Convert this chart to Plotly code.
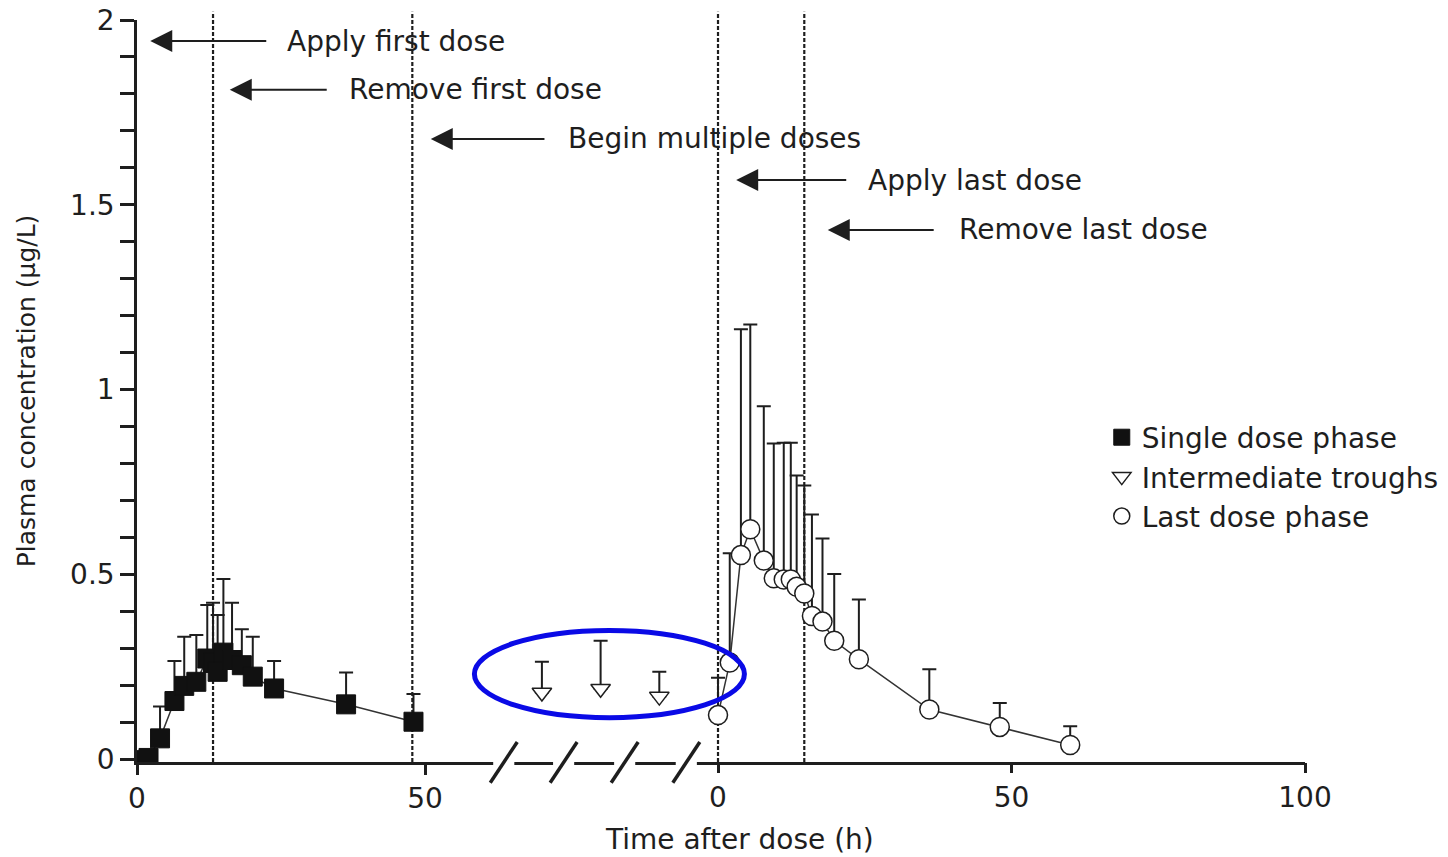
import plotly.graph_objects as go

# ---------------- data ----------------
# Single dose phase (first axis segment, hours after first dose)
single_t = [0, 2, 4, 6.5, 8.2, 10.3, 12.2, 13.2, 14, 15, 16.5, 18.2, 20.1, 23.8, 36.3, 48]
single_c = [-0.003, 0.003, 0.056, 0.157, 0.198, 0.209, 0.272, 0.26, 0.236, 0.288, 0.268, 0.254, 0.223, 0.191, 0.148, 0.101]
single_sd = [0, 0, 0.086, 0.108, 0.133, 0.127, 0.145, 0.163, 0.154, 0.199, 0.155, 0.097, 0.108, 0.074, 0.086, 0.075]

# Intermediate troughs (placed in the axis break, relative to last dose)
trough_t = [-30, -20, -10]
trough_c = [0.180, 0.190, 0.169]
trough_sd = [0.083, 0.130, 0.067]

# Last dose phase (second axis segment, hours after last dose)
last_t = [0, 2, 3.9, 5.5, 7.8, 9.5, 11.2, 12.4, 13.4, 14.7, 16, 17.8, 19.8, 24, 36, 48, 60]
last_c = [0.119, 0.261, 0.552, 0.622, 0.537, 0.489, 0.486, 0.486, 0.466, 0.448, 0.387, 0.372, 0.32, 0.27, 0.134, 0.087, 0.038]
last_sd = [0.101, 0.296, 0.611, 0.554, 0.418, 0.365, 0.370, 0.370, 0.301, 0.292, 0.275, 0.225, 0.181, 0.162, 0.109, 0.065, 0.051]

# tick labels
y_ticks = [0, 0.5, 1, 1.5, 2]
y_ticklabels = ["0", "0.5", "1", "1.5", "2"]
x1_ticks = [0, 50]
x2_ticks = [0, 50, 100]

# event markers (vertical dotted lines)
first_axis_events = [13.2, 47.8]
last_axis_events = [0, 14.7]

# ---------------- style ----------------
FONT = "DejaVu Sans"
INK = "#1e1e1e"
LINE = "#333333"

fig = go.Figure()

# connecting lines
fig.add_trace(go.Scatter(x=single_t, y=single_c, xaxis="x", yaxis="y", mode="lines",
                         line=dict(color=LINE, width=1.5), showlegend=False, hoverinfo="skip"))
fig.add_trace(go.Scatter(x=last_t, y=last_c, xaxis="x2", yaxis="y", mode="lines",
                         line=dict(color=LINE, width=1.5), showlegend=False, hoverinfo="skip"))

err_common = dict(type="data", symmetric=False, color=INK, thickness=2, width=7)

fig.add_trace(go.Scatter(
    x=single_t, y=single_c, xaxis="x", yaxis="y", mode="markers", name="Single dose phase",
    marker=dict(symbol="square", size=19, color="#111111", line=dict(color="#111111", width=1)),
    error_y=dict(array=single_sd, arrayminus=[0] * len(single_sd), **err_common)))

fig.add_trace(go.Scatter(
    x=trough_t, y=trough_c, xaxis="x2", yaxis="y", mode="markers", name="Intermediate troughs",
    marker=dict(symbol="triangle-down", size=17, color="white", line=dict(color=INK, width=1.5)),
    error_y=dict(array=trough_sd, arrayminus=[0] * len(trough_sd), **err_common)))

fig.add_trace(go.Scatter(
    x=last_t, y=last_c, xaxis="x2", yaxis="y", mode="markers", name="Last dose phase",
    marker=dict(symbol="circle", size=19, color="white", line=dict(color=INK, width=1.5)),
    error_y=dict(array=last_sd, arrayminus=[0] * len(last_sd), **err_common)))

shapes = []
# vertical dotted event lines
for xv in first_axis_events:
    shapes.append(dict(type="line", xref="x", yref="paper", x0=xv, x1=xv, y0=0, y1=1.011,
                       line=dict(color=INK, width=2.2, dash="4px,2px"), layer="below"))
for xv in last_axis_events:
    shapes.append(dict(type="line", xref="x2", yref="paper", x0=xv, x1=xv, y0=0, y1=1.011,
                       line=dict(color=INK, width=2.2, dash="4px,2px"), layer="below"))

# axis break: gaps + slashes
for c in [-36.5, -26.3, -15.9, -5.4]:
    shapes.append(dict(type="line", xref="x2", yref="paper", x0=c - 1.8, x1=c + 1.8, y0=0, y1=0,
                       line=dict(color="white", width=6), layer="above"))
    shapes.append(dict(type="line", xref="x2", yref="paper", x0=c - 2.3, x1=c + 2.3, y0=-0.028, y1=0.027,
                       line=dict(color=INK, width=3.5), layer="above"))

# blue ellipse highlighting the troughs
shapes.append(dict(type="circle", xref="x2", yref="y", x0=-41.5, x1=4.5, y0=0.112, y1=0.348,
                   line=dict(color="#0a0ae6", width=5), layer="above"))

annotations = []
arrows = [
    # (xref, tip_x, tail_x, text_x, y, text)
    ("x", 2.3, 22.7, 25.7, 1.943, "Apply first dose"),
    ("x", 16.1, 33.2, 36.5, 1.811, "Remove first dose"),
    ("x", 51.0, 71.0, 74.5, 1.678, "Begin multiple doses"),
    ("x2", 3.1, 22.1, 25.2, 1.567, "Apply last dose"),
    ("x2", 18.7, 37.0, 40.7, 1.432, "Remove last dose"),
]
for xr, tip, tail, tx, yv, txt in arrows:
    annotations.append(dict(xref=xr, yref="y", x=tip, y=yv, axref=xr, ayref="y", ax=tail, ay=yv,
                            text="", showarrow=True, arrowhead=2, arrowsize=2.2, arrowwidth=2,
                            arrowcolor=INK))
    annotations.append(dict(xref=xr, yref="y", x=tx, y=yv, text=txt, showarrow=False,
                            xanchor="left", yanchor="middle",
                            font=dict(family=FONT, size=28, color=INK)))

# x axis title
annotations.append(dict(xref="paper", yref="paper", x=0.516, y=-0.105, text="Time after dose (h)",
                        showarrow=False, xanchor="center", yanchor="middle",
                        font=dict(family=FONT, size=28, color=INK)))

fig.update_layout(
    template="none",
    width=1448, height=857, autosize=False,
    margin=dict(l=137, r=143, t=20, b=95, pad=0, autoexpand=False),
    paper_bgcolor="white", plot_bgcolor="white",
    font=dict(family=FONT, size=28, color=INK),
    showlegend=True,
    legend=dict(x=0.826, y=0.471, xanchor="left", yanchor="top", bgcolor="rgba(0,0,0,0)",
                borderwidth=0,
                font=dict(family=FONT, size=28, color=INK), itemsizing="trace",
                tracegroupgap=0),
    xaxis=dict(range=[0, 202.78], tickvals=x1_ticks, ticktext=[str(v) for v in x1_ticks],
               showline=True, linecolor=INK, linewidth=2.5, ticks="outside", ticklen=10,
               tickwidth=2.5, tickcolor=INK, showgrid=False, zeroline=False, automargin=False,
               ticklabeloverflow="allow",
               tickfont=dict(family=FONT, size=28, color=INK), anchor="y"),
    xaxis2=dict(range=[-98.98, 100], tickvals=x2_ticks, ticktext=[str(v) for v in x2_ticks],
                overlaying="x", anchor="y", side="bottom", showline=False, automargin=False,
                ticklabeloverflow="allow",
                ticks="outside", ticklen=10, tickwidth=2.5, tickcolor=INK,
                showgrid=False, zeroline=False, tickfont=dict(family=FONT, size=28, color=INK)),
    yaxis=dict(range=[-0.008, 2.0], tickvals=y_ticks, ticktext=y_ticklabels,
               showline=True, linecolor=INK, linewidth=2.5, ticks="outside", ticklen=14,
               tickwidth=2.5, tickcolor=INK, showgrid=False, zeroline=False, automargin=False,
               ticklabeloverflow="allow",
               minor=dict(dtick=0.1, ticks="outside", ticklen=14, tickwidth=2.5, tickcolor=INK, showgrid=False),
               tickfont=dict(family=FONT, size=28, color=INK),
               title=dict(text="Plasma concentration (µg/L)", standoff=28,
                          font=dict(family=FONT, size=25, color=INK))),
    shapes=shapes, annotations=annotations,
)

# remove the default page margin so the 1448x857 figure fills the window exactly
fig.write_html("out.html", config={"displayModeBar": False},
               post_script="document.body.style.margin='0px';")
